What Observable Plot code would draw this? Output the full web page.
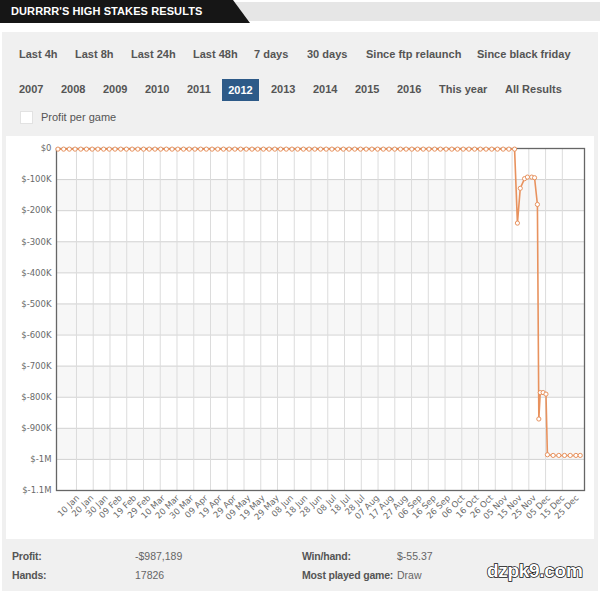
<!DOCTYPE html>
<html><head><meta charset="utf-8">
<script src="https://cdn.jsdelivr.net/npm/d3@7"></script>
<script src="https://cdn.jsdelivr.net/npm/@observablehq/plot@0.6"></script>
<style>
body{margin:0;width:600px;height:591px;background:#fff;position:relative;overflow:hidden;font-family:"Liberation Sans",Arial,sans-serif;}
.tab{position:absolute;left:0;top:0;width:250px;height:23px;background:#161616;clip-path:polygon(0 0,233px 0,250px 23px,0 23px);}
.tabtext{position:absolute;left:11px;top:5px;color:#fff;font-weight:bold;font-size:11px;letter-spacing:0.1px;}
.strip{position:absolute;left:234px;top:2px;width:366px;height:19px;background:#e6e6e6;clip-path:polygon(0 0,100% 0,100% 100%,15px 100%);}
.panel{position:absolute;left:2px;top:32px;width:596px;height:559px;background:#f0f0f0;}
.btn{position:absolute;font-size:11px;font-weight:bold;color:#555;line-height:13px;}
.sel{position:absolute;left:222px;top:79px;width:37px;height:22px;background:#2d5a88;}
.sel span{display:block;color:#fff;font-weight:bold;font-size:11px;text-align:center;line-height:22px;}
.chk{position:absolute;left:20px;top:111px;width:11px;height:11px;background:#fff;border:1px solid #e2e2e2;}
.lbl{position:absolute;font-size:11px;color:#555;line-height:13px;}
.chartbox{position:absolute;left:6px;top:136px;width:588px;height:403px;background:#fff;}
#chart{position:absolute;left:8px;top:137px;}
.fb{position:absolute;font-size:10.5px;font-weight:bold;color:#555;line-height:13px;letter-spacing:-0.2px;}
.fv{position:absolute;font-size:10.5px;color:#666;line-height:13px;}
.wm{position:absolute;left:487px;top:560px;font-size:19px;font-weight:bold;color:#fff;-webkit-text-stroke:1.5px #111;paint-order:stroke fill;font-family:"Liberation Sans",Arial,sans-serif;letter-spacing:-0.3px;line-height:22px;}
</style></head>
<body>
<div class="strip"></div>
<div class="tab"></div>
<div class="tabtext">DURRRR'S HIGH STAKES RESULTS</div>
<div class="panel"></div>
<div class="btn" style="left:19px;top:48px">Last 4h</div>
<div class="btn" style="left:75px;top:48px">Last 8h</div>
<div class="btn" style="left:131px;top:48px">Last 24h</div>
<div class="btn" style="left:193px;top:48px">Last 48h</div>
<div class="btn" style="left:254px;top:48px">7 days</div>
<div class="btn" style="left:307px;top:48px">30 days</div>
<div class="btn" style="left:366px;top:48px">Since ftp relaunch</div>
<div class="btn" style="left:477px;top:48px">Since black friday</div>
<div class="btn" style="left:19px;top:83px">2007</div>
<div class="btn" style="left:61px;top:83px">2008</div>
<div class="btn" style="left:103px;top:83px">2009</div>
<div class="btn" style="left:145px;top:83px">2010</div>
<div class="btn" style="left:187px;top:83px">2011</div>
<div class="sel"><span>2012</span></div>
<div class="btn" style="left:271px;top:83px">2013</div>
<div class="btn" style="left:313px;top:83px">2014</div>
<div class="btn" style="left:355px;top:83px">2015</div>
<div class="btn" style="left:397px;top:83px">2016</div>
<div class="btn" style="left:439px;top:83px">This year</div>
<div class="btn" style="left:505px;top:83px">All Results</div>
<div class="chk"></div>
<div class="lbl" style="left:41px;top:111px">Profit per game</div>
<div class="chartbox"></div>
<div id="chart"></div>
<div class="fb" style="left:12px;top:550px">Profit:</div>
<div class="fv" style="left:135px;top:550px">-$987,189</div>
<div class="fb" style="left:302px;top:550px">Win/hand:</div>
<div class="fv" style="left:397px;top:550px">$-55.37</div>
<div class="fb" style="left:12px;top:569px">Hands:</div>
<div class="fv" style="left:135px;top:569px">17826</div>
<div class="fb" style="left:302px;top:569px">Most played game:</div>
<div class="fv" style="left:397px;top:569px">Draw</div>
<div class="wm">dzpk9.com</div>
<script>
// Day offsets from 2012-01-01 and cumulative profit (USD)
const dayOffsets = [-5,-1,3,7,11,15,19,23,27,31,35,39,43,47,51,55,59,63,67,71,75,79,83,87,91,95,99,103,107,111,115,119,123,127,131,135,139,143,147,151,155,159,163,167,171,175,179,183,187,191,195,199,203,207,211,215,219,223,227,231,235,239,243,247,251,255,259,263,267,271,275,279,283,287,291,295,299,303,307,311,315,
  317,319,322,324,327,329,331,332,333,335,337,338,342,346,350,354,358,361];
const profit = [-2000,-2000,-2000,-2000,-2000,-2000,-2000,-2000,-2000,-2000,-2000,-2000,-2000,-2000,-2000,-2000,-2000,-2000,-2000,-2000,-2000,-2000,-2000,-2000,-2000,-2000,-2000,-2000,-2000,-2000,-2000,-2000,-2000,-2000,-2000,-2000,-2000,-2000,-2000,-2000,-2000,-2000,-2000,-2000,-2000,-2000,-2000,-2000,-2000,-2000,-2000,-2000,-2000,-2000,-2000,-2000,-2000,-2000,-2000,-2000,-2000,-2000,-2000,-2000,-2000,-2000,-2000,-2000,-2000,-2000,-2000,-2000,-2000,-2000,-2000,-2000,-2000,-2000,-2000,-2000,-2000,
  -240000,-128000,-97000,-92000,-92000,-94000,-180000,-870000,-785000,-785000,-790000,-985000,-987189,-987189,-987189,-987189,-987189,-987189];
const xTickLabels = ["2012-01-10","2012-01-20","2012-01-30","2012-02-09","2012-02-19","2012-02-29","2012-03-10","2012-03-20","2012-03-30","2012-04-09","2012-04-19","2012-04-29","2012-05-09","2012-05-19","2012-05-29","2012-06-08","2012-06-18","2012-06-28","2012-07-08","2012-07-18","2012-07-28","2012-08-07","2012-08-17","2012-08-27","2012-09-06","2012-09-16","2012-09-26","2012-10-06","2012-10-16","2012-10-26","2012-11-05","2012-11-15","2012-11-25","2012-12-05","2012-12-15","2012-12-25"];
const yTickValues = [0,-100000,-200000,-300000,-400000,-500000,-600000,-700000,-800000,-900000,-1000000,-1100000];
const yTickLabels = ["$0","$-100K","$-200K","$-300K","$-400K","$-500K","$-600K","$-700K","$-800K","$-900K","$-1M","$-1.1M"];

const base = Date.UTC(2012,0,1);
const DAY = 864e5;
const data = dayOffsets.map((d,i)=>({date:new Date(base + d*DAY), profit:profit[i]}));
const xTicks = xTickLabels.map(s=>new Date(s+"T00:00:00Z"));
const gridDates = d3.range(30).map(i=>new Date(base + (8 + i*11.74)*DAY));
const bands = d3.range(1,11,2).map(i=>({y1:yTickValues[i], y2:yTickValues[i+1]}));
const yLab = new Map(yTickValues.map((v,i)=>[v,yTickLabels[i]]));
const col = "#e8925e";

const chart = Plot.plot({
  width:584, height:400,
  marginLeft:48, marginRight:8, marginTop:11, marginBottom:47,
  style:{fontFamily:"'DejaVu Sans', Verdana, sans-serif", fontSize:"8.5px", color:"#6a6a6a", background:"transparent"},
  x:{type:"utc", domain:[new Date(Date.UTC(2011,11,26)), new Date(Date.UTC(2012,11,30))], ticks:xTicks, tickFormat:d3.utcFormat("%d %b"), tickRotate:-45, tickSize:0, tickPadding:6, label:null},
  y:{domain:[-1100000,0], ticks:yTickValues, tickFormat:v=>yLab.get(v), tickSize:0, tickPadding:5, label:null},
  marks:[
    Plot.rect(bands,{y1:"y1", y2:"y2", fill:"#f7f7f7"}),
    Plot.ruleY(yTickValues,{stroke:"#d2d2d2", strokeWidth:1}),
    Plot.ruleX(gridDates,{stroke:"#dcdcdc", strokeWidth:1}),
    Plot.frame({stroke:"#666", strokeWidth:1.3}),
    Plot.line(data,{x:"date", y:"profit", stroke:col, strokeWidth:1.6}),
    Plot.dot(data,{x:"date", y:"profit", r:2.1, stroke:col, fill:"#fff", strokeWidth:1})
  ]
});
document.getElementById("chart").appendChild(chart);
</script>
</body></html>
